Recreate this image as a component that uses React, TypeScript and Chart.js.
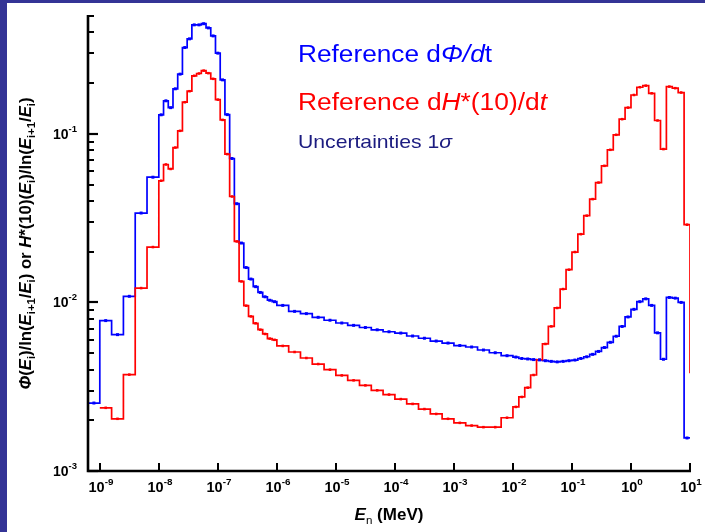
import React, { useEffect, useRef } from 'react';
import { Chart, registerables } from 'chart.js';

Chart.register(...registerables);

// log10 of bin edges (MeV)
const binEdgesLogE = [
  -9.2, -9.0, -8.8, -8.6, -8.4, -8.2,
  -8.0, -7.92, -7.84, -7.76, -7.68, -7.6, -7.52, -7.44, -7.36, -7.28, -7.2, -7.12, -7.04, -6.96, -6.88,
  -6.8, -6.72, -6.64, -6.56, -6.48, -6.4, -6.32, -6.24, -6.16, -6.08,
  -6.0, -5.8, -5.6, -5.4, -5.2, -5.0, -4.8, -4.6, -4.4, -4.2, -4.0, -3.8, -3.6, -3.4, -3.2, -3.0,
  -2.8, -2.6, -2.4, -2.2,
  -2.0, -1.9, -1.8, -1.7, -1.6, -1.5, -1.4, -1.3, -1.2, -1.1, -1.0, -0.9, -0.8, -0.7, -0.6, -0.5,
  -0.4, -0.3, -0.2, -0.1, 0.0, 0.1, 0.2, 0.3, 0.4, 0.5, 0.6, 0.7, 0.8, 0.9, 1.0,
];

// Reference dPhi/dt (blue), one value per bin
const fluenceRate = [
  0.00253, 0.0078, 0.00644, 0.01087, 0.0339, 0.0553,
  0.1297, 0.157, 0.143, 0.185, 0.226, 0.325, 0.366, 0.443, 0.443, 0.45, 0.425, 0.381, 0.301, 0.209,
  0.13, 0.0714, 0.0385, 0.0225, 0.0161, 0.01376, 0.0124, 0.01146, 0.0108, 0.0103, 0.0101,
  0.0096, 0.00885, 0.00858, 0.00816, 0.00784, 0.00755, 0.00731, 0.0071, 0.00688, 0.0067, 0.00658,
  0.00632, 0.00613, 0.0059, 0.00574, 0.00555, 0.00544, 0.00522, 0.00503, 0.00483,
  0.00474, 0.00465, 0.00462, 0.00458, 0.00456, 0.00451, 0.00447, 0.00444, 0.00447, 0.00451,
  0.00455, 0.00465, 0.00476, 0.00492, 0.00512, 0.0054, 0.0058, 0.0063, 0.0072, 0.0082,
  0.0091, 0.0101, 0.0105, 0.0096, 0.0066, 0.0046, 0.0107, 0.0106, 0.01, 0.00157,
];

// Reference dH*(10)/dt (red), one value per bin (no value in the first bin)
const doseRate: (number | null)[] = [
  null, 0.00237, 0.00204, 0.00373, 0.01216, 0.0213,
  0.0527, 0.0658, 0.0619, 0.0829, 0.1042, 0.154, 0.179, 0.221, 0.228, 0.237, 0.229, 0.212, 0.1595, 0.121,
  0.0758, 0.0425, 0.023, 0.01332, 0.00956, 0.00826, 0.00752, 0.00689, 0.0065, 0.0061, 0.006,
  0.00552, 0.00508, 0.00468, 0.00431, 0.00399, 0.00369, 0.00345, 0.00322, 0.00301, 0.00284, 0.00267,
  0.0025, 0.00233, 0.00218, 0.00204, 0.00193, 0.00186, 0.00182, 0.00182, 0.00207,
  0.0024, 0.00275, 0.00312, 0.00371, 0.00457, 0.00567, 0.00721, 0.00927, 0.012, 0.01563,
  0.0199, 0.0254, 0.0327, 0.041, 0.0514, 0.0646, 0.0804, 0.0987, 0.1222, 0.143,
  0.17, 0.189, 0.193, 0.174, 0.12, 0.0812, 0.1906, 0.1866, 0.1758, 0.0289,
];
const doseRateEndValue = 0.0038;

const xTickExponents = [-9, -8, -7, -6, -5, -4, -3, -2, -1, 0, 1];
const yTickExponents = [-3, -2, -1];
const yMinorMultipliers = [2, 3, 4, 5, 6, 7, 8, 9];

const FONT = '"Liberation Sans", Arial, Helvetica, sans-serif';
const BLUE = '#0000ff';
const RED = '#ff0000';
const NAVY = '#1c1c80';
const FRAME = '#343496';

type Seg = { t: string; it?: boolean; b?: boolean; sub?: boolean; sup?: boolean };

function segFont(s: Seg, size: number, bold: boolean) {
  const sz = s.sub || s.sup ? size * 0.68 : size;
  const bb = s.b ?? bold;
  return `${s.it ? 'italic ' : ''}${bb ? 'bold ' : ''}${sz}px ${FONT}`;
}

function drawRich(
  ctx: CanvasRenderingContext2D,
  segs: Seg[],
  x: number,
  y: number,
  size: number,
  color: string,
  opts: { bold?: boolean; align?: 'left' | 'center' | 'right'; width?: number; supShift?: number } = {}
) {
  const bold = !!opts.bold;
  const ws: number[] = [];
  let total = 0;
  for (const s of segs) {
    ctx.font = segFont(s, size, bold);
    const w = ctx.measureText(s.t).width;
    ws.push(w);
    total += w;
  }
  const sx = opts.width ? opts.width / total : 1;
  ctx.save();
  ctx.translate(x, y);
  ctx.scale(sx, 1);
  ctx.fillStyle = color;
  ctx.textAlign = 'left';
  ctx.textBaseline = 'alphabetic';
  let cx = opts.align === 'center' ? -total / 2 : opts.align === 'right' ? -total : 0;
  segs.forEach((s, i) => {
    ctx.font = segFont(s, size, bold);
    const dy = s.sub ? size * 0.26 : s.sup ? -size * (opts.supShift ?? 0.45) : 0;
    ctx.fillText(s.t, cx, dy);
    cx += ws[i];
  });
  ctx.restore();
}

function stepPoints(values: (number | null)[], endValue?: number) {
  const pts: { x: number; y: number }[] = [];
  values.forEach((v, i) => {
    if (v == null) return;
    pts.push({ x: Math.pow(10, binEdgesLogE[i]), y: v });
  });
  const last = values[values.length - 1] as number;
  pts.push({ x: Math.pow(10, binEdgesLogE[binEdgesLogE.length - 1]), y: endValue ?? last });
  return pts;
}

function markerPoints(values: (number | null)[]) {
  const pts: { x: number; y: number }[] = [];
  values.forEach((v, i) => {
    if (v == null) return;
    pts.push({ x: Math.pow(10, (binEdgesLogE[i] + binEdgesLogE[i + 1]) / 2), y: v });
  });
  return pts;
}

const backgroundPlugin = {
  id: 'bg',
  beforeDraw(chart: any) {
    const ctx = chart.ctx as CanvasRenderingContext2D;
    ctx.save();
    ctx.fillStyle = '#ffffff';
    ctx.fillRect(0, 0, chart.width, chart.height);
    ctx.fillStyle = FRAME;
    ctx.fillRect(0, 0, 7, chart.height);
    ctx.fillRect(0, 0, chart.width, 3);
    ctx.restore();
  },
};

const axesPlugin = {
  id: 'axesDecor',
  afterDraw(chart: any) {
    const ctx = chart.ctx as CanvasRenderingContext2D;
    const { left, right, top, bottom } = chart.chartArea;
    const xs = chart.scales.x;
    const ys = chart.scales.y;
    ctx.save();
    ctx.strokeStyle = '#000';
    ctx.lineCap = 'butt';

    // axis lines
    ctx.lineWidth = 2.6;
    ctx.beginPath();
    ctx.moveTo(left, top - 1);
    ctx.lineTo(left, bottom + 1.3);
    ctx.moveTo(left - 1.3, bottom);
    ctx.lineTo(right + 1, bottom);
    ctx.stroke();

    // x ticks + labels
    ctx.lineWidth = 2;
    xTickExponents.forEach((e) => {
      const px = Math.round(xs.getPixelForValue(Math.pow(10, e)));
      ctx.beginPath();
      ctx.moveTo(px, bottom);
      ctx.lineTo(px, bottom - 8);
      ctx.stroke();
      drawRich(ctx, [{ t: '10' }, { t: String(e), sup: true }], px + 1, bottom + 21, 14.5, '#000', {
        bold: true,
        align: 'center',
        supShift: 0.5,
      });
    });

    // y ticks
    yTickExponents.forEach((e) => {
      const v = Math.pow(10, e);
      const py = Math.round(ys.getPixelForValue(v));
      ctx.lineWidth = 2.2;
      ctx.beginPath();
      ctx.moveTo(left, py);
      ctx.lineTo(left + 10, py);
      ctx.stroke();
      drawRich(ctx, [{ t: '10' }, { t: String(e), sup: true }], left - 11, py + 5, 14, '#000', {
        bold: true,
        align: 'right',
        supShift: 0.5,
      });
      yMinorMultipliers.forEach((m) => {
        const mv = m * v;
        if (mv > ys.max * 1.0001) return;
        const mpy = Math.round(ys.getPixelForValue(mv));
        ctx.lineWidth = 2;
        ctx.beginPath();
        ctx.moveTo(left, mpy);
        ctx.lineTo(left + 6, mpy);
        ctx.stroke();
      });
    });

    // x title
    drawRich(
      ctx,
      [{ t: 'E', it: true }, { t: 'n', sub: true, b: false }, { t: ' (MeV)' }],
      (left + right) / 2,
      bottom + 49,
      17,
      '#000',
      { bold: true, align: 'center' }
    );

    // y title
    ctx.save();
    ctx.translate(31, (top + bottom) / 2);
    ctx.rotate(-Math.PI / 2);
    drawRich(
      ctx,
      [
        { t: 'Φ', it: true }, { t: '(' }, { t: 'E', it: true }, { t: 'i', sub: true }, { t: ')/ln(' },
        { t: 'E', it: true }, { t: 'i+1', sub: true }, { t: '/' }, { t: 'E', it: true }, { t: 'i', sub: true },
        { t: ') or ' }, { t: 'H', it: true }, { t: '*(10)(' }, { t: 'E', it: true }, { t: 'i', sub: true },
        { t: ')/ln(' }, { t: 'E', it: true }, { t: 'i+1', sub: true }, { t: '/' }, { t: 'E', it: true },
        { t: 'i', sub: true }, { t: ')' },
      ],
      0,
      0,
      16,
      '#000',
      { bold: true, align: 'center', width: 292 }
    );
    ctx.restore();

    // in-plot legend texts
    drawRich(ctx, [{ t: 'Reference d' }, { t: 'Φ/d', it: true }, { t: 't' }], 298, 62, 23.5, BLUE, { width: 194 });
    drawRich(
      ctx,
      [{ t: 'Reference d' }, { t: 'H', it: true }, { t: '*(10)/d' }, { t: 't', it: true }],
      298,
      110,
      23.5,
      RED,
      { width: 249 }
    );
    drawRich(ctx, [{ t: 'Uncertainties 1' }, { t: 'σ', it: true }], 298, 148, 18.5, NAVY, { width: 154 });

    ctx.restore();
  },
};

export default function App() {
  const ref = useRef<HTMLCanvasElement | null>(null);
  useEffect(() => {
    if (!ref.current) return;
    const chart = new Chart(ref.current, {
      type: 'line',
      data: {
        datasets: [
          {
            label: 'markers blue',
            data: markerPoints(fluenceRate),
            showLine: false,
            pointStyle: 'rect',
            pointRadius: 2.1,
            pointBorderWidth: 0,
            pointBackgroundColor: BLUE,
            borderColor: BLUE,
            order: 0,
          },
          {
            label: 'markers red',
            data: markerPoints(doseRate),
            showLine: false,
            pointStyle: 'rect',
            pointRadius: 1.8,
            pointBorderWidth: 0,
            pointBackgroundColor: RED,
            borderColor: RED,
            order: 1,
          },
          {
            label: 'Reference dH*(10)/dt',
            data: stepPoints(doseRate, doseRateEndValue),
            stepped: 'before',
            borderColor: RED,
            borderWidth: 1.7,
            pointRadius: 0,
            fill: false,
            order: 2,
          },
          {
            label: 'Reference dPhi/dt',
            data: stepPoints(fluenceRate),
            stepped: 'before',
            borderColor: BLUE,
            borderWidth: 1.7,
            pointRadius: 0,
            fill: false,
            order: 3,
          },
        ],
      } as any,
      options: {
        responsive: false,
        animation: false,
        events: [],
        layout: { padding: { left: 88, right: 15, top: 16, bottom: 61 } },
        scales: {
          x: { type: 'logarithmic', min: Math.pow(10, -9.2), max: 10, display: false },
          y: { type: 'logarithmic', min: 0.001, max: 0.5, display: false },
        },
        plugins: { legend: { display: false }, tooltip: { enabled: false } },
      } as any,
      plugins: [backgroundPlugin, axesPlugin],
    });
    return () => chart.destroy();
  }, []);
  return (
    <div style={{ position: 'fixed', left: 0, top: 0, width: 705, height: 532, overflow: 'hidden' }}>
      <canvas ref={ref} width={705} height={532} style={{ display: 'block', width: 705, height: 532 }} />
    </div>
  );
}
